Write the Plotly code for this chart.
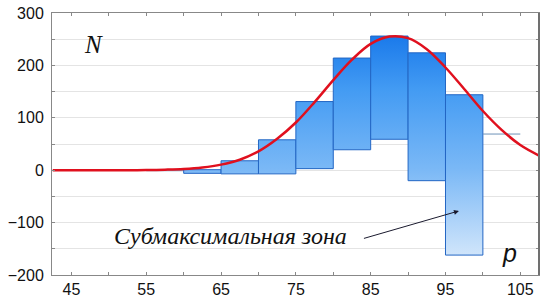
import plotly.graph_objects as go

# ---- data ----
bin_left = [55, 60, 65, 70, 75, 80, 85, 90, 95, 100]
bin_width = 5
bar_top = [-1, 1, 18, 58, 131, 214, 256, 224, 144, 69]
bar_bottom = [-1, -6, -7, -7, 3, 39, 59, -20, -162, 69]

curve_x = [42.5, 45, 47.5, 50, 52.5, 55, 57.5, 60, 62.5, 65, 67.5, 70, 72.5, 75, 77.5,
           80, 82.5, 85, 87.5, 90, 92.5, 95, 97.5, 100, 102.5, 105, 107.5]
curve_y = [0, 0, 0, 0, 0, 0.3, 1, 2.3, 5.2, 10.6, 20, 36, 60, 91, 130,
           172, 211, 241, 255, 252, 231, 196, 155, 113, 77, 48, 28]

x_ticks = [45, 55, 65, 75, 85, 95, 105]
y_ticks = [-200, -100, 0, 100, 200, 300]

fig = go.Figure()

grad = dict(type="vertical", start=-170, stop=262,
            colorscale=[[0, "#d4e7fb"], [0.4, "#7ab8f6"], [0.75, "#439bf3"], [1, "#1878ea"]])

for l, t, b in zip(bin_left, bar_top, bar_bottom):
    r = l + bin_width
    if t == b:
        fig.add_trace(go.Scatter(x=[l, r], y=[t, b], mode="lines",
                                 line=dict(color="#6d93b8", width=1),
                                 hoverinfo="skip", showlegend=False))
    else:
        fig.add_trace(go.Scatter(x=[l, r, r, l, l], y=[b, b, t, t, b], mode="lines",
                                 fill="toself", fillgradient=grad,
                                 line=dict(color="#2366c4", width=1),
                                 hoverinfo="skip", showlegend=False))

fig.add_trace(go.Scatter(x=curve_x, y=curve_y, mode="lines", line_shape="spline",
                         line=dict(color="#e0101e", width=2.5), showlegend=False))

serif = "Liberation Serif, DejaVu Serif, serif"
fig.add_annotation(x=47.9, y=239, text="<i>N</i>", showarrow=False,
                   font=dict(family=serif, size=25, color="#111"))
fig.add_annotation(x=103.6, y=-158, text="<i>p</i>", showarrow=False,
                   font=dict(family="Liberation Sans", size=25, color="#111"))
fig.add_annotation(x=66.3, y=-126, text="<i>Субмаксимальная зона</i>", showarrow=False,
                   font=dict(family=serif, size=24, color="#111"))
fig.add_annotation(x=96.8, y=-77.7, ax=83.9, ay=-131, xref="x", yref="y",
                   axref="x", ayref="y", text="", showarrow=True,
                   arrowhead=2, arrowsize=1, arrowwidth=1, arrowcolor="#1a1a2e")

fig.add_shape(type="line", xref="paper", yref="paper", x0=1, x1=1, y0=0, y1=1,
              line=dict(color="#707070", width=2))

fig.update_layout(
    width=544, height=302,
    margin=dict(l=52, r=5, t=13, b=27),
    plot_bgcolor="white", paper_bgcolor="white",
    font=dict(family="Liberation Sans", size=16, color="#111"),
)
fig.update_xaxes(range=[42.4, 107.5], tickvals=x_ticks, ticks="inside", ticklen=3,
                 tickcolor="#888", showline=True, linecolor="#888", linewidth=1,
                 mirror="ticks", showgrid=False, zeroline=False,
                 minor=dict(tickvals=[50, 60, 70, 80, 90, 100], ticks="inside", ticklen=3,
                            tickcolor="#888"))
fig.update_yaxes(range=[-200, 300], tickvals=y_ticks, ticks="inside", ticklen=3,
                 tickcolor="#888", showline=True, linecolor="#888", linewidth=1,
                 mirror="ticks", showgrid=True, gridcolor="#e4e4e4", zeroline=False,
                 ticklabelstandoff=4,
                 minor=dict(tickvals=[-150, -50, 50, 150, 250], showgrid=True,
                            gridcolor="#e4e4e4", ticks="inside", ticklen=3, tickcolor="#888"))

fig.write_html("out.html", config={"displayModeBar": False},
               post_script="document.body.style.margin='0';")
